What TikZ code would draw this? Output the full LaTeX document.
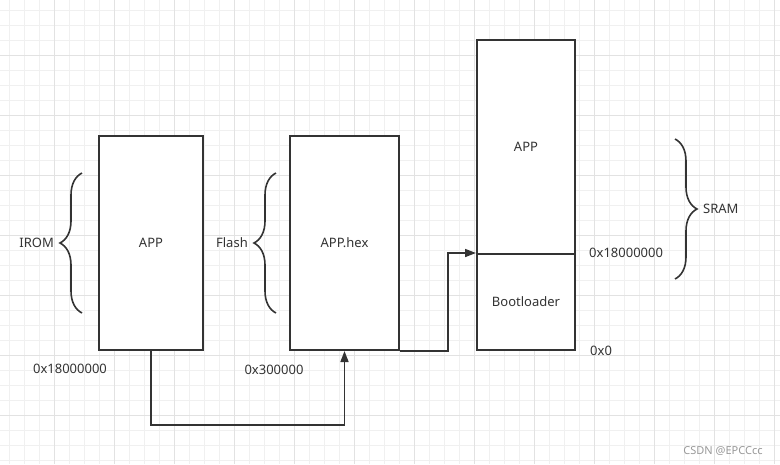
\documentclass[tikz,border=0pt]{standalone}
\usepackage{fontspec}
\setmainfont{Noto Sans}
\usetikzlibrary{arrows.meta,decorations.pathreplacing,positioning}
\definecolor{ink}{HTML}{333333}
\definecolor{gridminor}{HTML}{F0F0F0}
\definecolor{gridmajor}{HTML}{E2E2E2}
\definecolor{markgray}{HTML}{999999}
\tikzset{
  memblock/.style={draw=ink, line width=2pt, fill=white, inner sep=0pt,
    text=ink, font=\fontsize{13}{15}\selectfont},
  lbl/.style={text=ink, inner sep=1pt, font=\fontsize{13}{15}\selectfont},
  bracket/.style={draw=ink, line width=1.6pt, decorate,
    decoration={brace, amplitude=22pt}},
  link/.style={draw=ink, line width=1.6pt, -{Triangle[length=11pt,width=8pt]}}
}
\begin{document}
\begin{tikzpicture}[x=1pt,y=-1pt]
  \useasboundingbox (0,0) rectangle (780,464);
  \fill[white] (0,0) rectangle (780,464);

  % background grid
  \foreach \gx in {9.5,24.5,...,780} \draw[gridminor, line width=1pt] (\gx,0) -- (\gx,464);
  \foreach \gy in {10,25,...,464} \draw[gridminor, line width=1pt] (0,\gy) -- (780,\gy);
  \foreach \gx in {54.5,114.5,...,780} \draw[gridmajor, line width=1pt] (\gx,0) -- (\gx,464);
  \foreach \gy in {55,115,...,464} \draw[gridmajor, line width=1pt] (0,\gy) -- (780,\gy);

  % memory blocks
  \node[memblock, minimum width=104pt, minimum height=214pt] (rom) at (151,243) {APP};
  \node[memblock, minimum width=109pt, minimum height=214pt] (hex) at (344.5,243) {APP.hex};
  \node[memblock, minimum width=98pt, minimum height=214pt] (sramapp) at (526,147) {APP};
  \node[memblock, minimum width=98pt, minimum height=96pt] (boot) at (526,302) {Bootloader};

  % braces
  \draw[bracket] (82,313) -- (82,173);
  \coordinate (romtip) at (60,243);
  \node[lbl, left=5pt of romtip] (irom) {IROM};

  \draw[bracket] (276,313) -- (276,173);
  \coordinate (hextip) at (254,243);
  \node[lbl, left=5pt of hextip] (flash) {Flash};

  \draw[bracket] (675,139) -- (675,279);
  \coordinate (sramtip) at (697,209);
  \node[lbl, right=5pt of sramtip] (sram) {SRAM};

  % addresses
  \node[lbl] (romaddr) at (70,369) {0x18000000};
  \node[lbl] (hexaddr) at (274,370) {0x300000};
  \node[lbl, right=12pt of boot.north east] (appaddr) {0x18000000};
  \node[lbl, right=13pt of boot.south east] (bootaddr) {0x0};

  % copy paths
  \draw[link] (rom.south) -- ++(0,74) -| (hex.south);
  \draw[link] (hex.south east) -- ++(48,0) |- (boot.north west);

  \node[text=markgray, inner sep=0pt, font=\fontsize{11}{13}\selectfont] (mark) at (723,451) {CSDN @EPCCcc};
\end{tikzpicture}
\end{document}
